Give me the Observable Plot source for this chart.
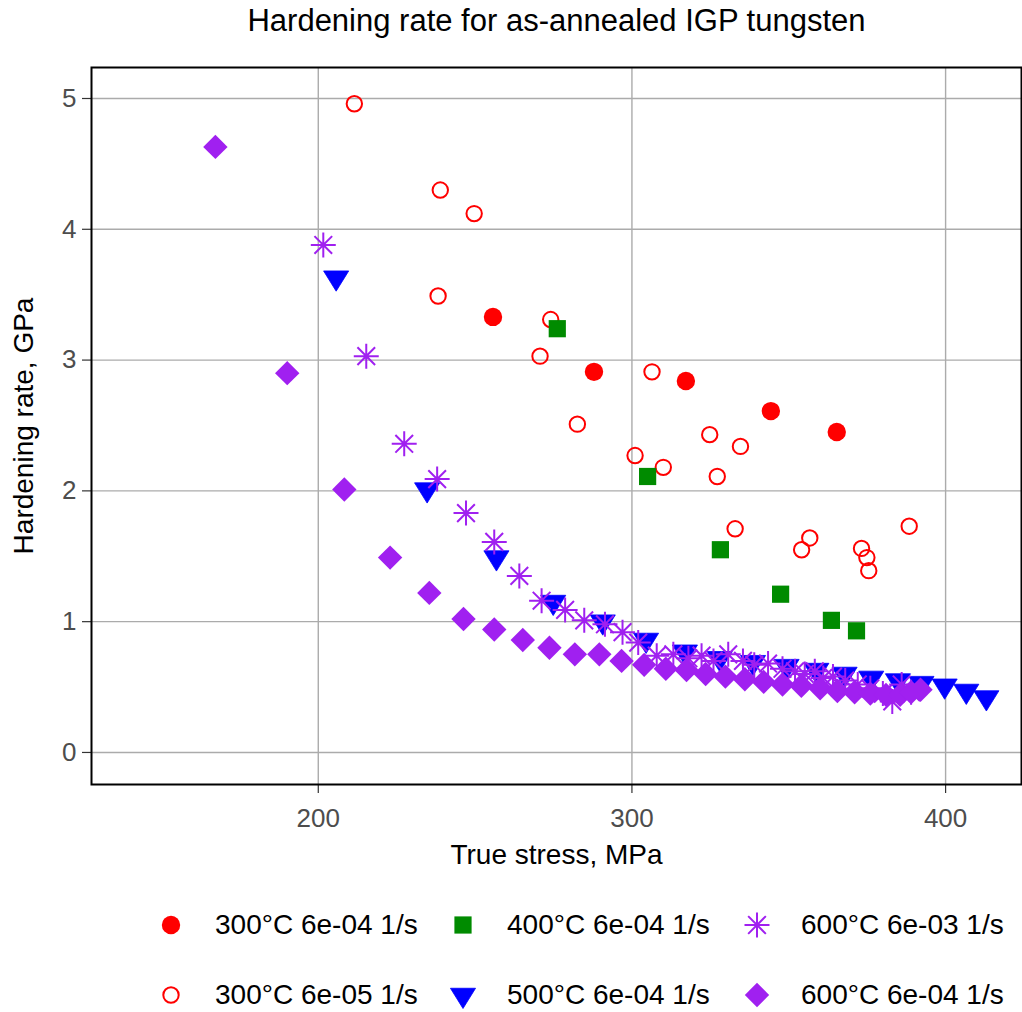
<!DOCTYPE html>
<html>
<head>
<meta charset="utf-8">
<script src="https://cdn.jsdelivr.net/npm/d3@7"></script>
<script src="https://cdn.jsdelivr.net/npm/@observablehq/plot@0.6"></script>
<style>
  body { margin: 0; background: #fff; font-family: "Liberation Sans", Arial, sans-serif; }
  #wrap { position: relative; width: 1022px; height: 1012px; overflow: hidden; }
  #title { position: absolute; left: 91px; width: 931px; top: 0; height: 42px; line-height: 42px;
           text-align: center; font-size: 31px; color: #000; white-space: nowrap; }
  #chart { position: absolute; left: 0; top: 48px; }
  .leg { position: absolute; height: 40px; display: flex; align-items: center; font-size: 28px; color: #000; white-space: nowrap; }
  .leg svg { position: absolute; }
</style>
</head>
<body>
<div id="wrap">
  <div id="title">Hardening rate for as-annealed IGP tungsten</div>
  <div id="chart"></div>
</div>
<script>
// ---------------- data ----------------
const seriesLabels = [
  "300°C 6e-04 1/s", "300°C 6e-05 1/s", "400°C 6e-04 1/s",
  "500°C 6e-04 1/s", "600°C 6e-03 1/s", "600°C 6e-04 1/s"
];
const xTicks = [200, 300, 400];
const yTicks = [0, 1, 2, 3, 4, 5];

const stress_300C_6e04 = [255.7, 287.9, 317.2, 344.3, 365.3];
const rate_300C_6e04   = [3.33, 2.91, 2.84, 2.61, 2.45];

const stress_300C_6e05 = [211.5, 238.9, 249.7, 238.2, 274.1, 270.7, 282.6, 306.4, 301.0, 310.0,
                          324.8, 334.6, 327.2, 332.9, 356.7, 354.1, 373.2, 374.9, 375.5, 388.4];
const rate_300C_6e05   = [4.96, 4.30, 4.12, 3.49, 3.31, 3.03, 2.51, 2.91, 2.27, 2.18,
                          2.43, 2.34, 2.11, 1.71, 1.64, 1.55, 1.56, 1.49, 1.39, 1.73];

const stress_400C_6e04 = [276.2, 305.0, 328.2, 347.4, 363.6, 371.6];
const rate_400C_6e04   = [3.24, 2.11, 1.55, 1.21, 1.01, 0.93];

const stress_500C_6e04 = [205.7, 234.7, 256.8, 274.9, 290.7, 304.5, 316.9, 328.0, 338.6, 349.3,
                          358.8, 367.8, 376.3, 384.8, 392.3, 399.7, 406.6, 413.0];
const rate_500C_6e04   = [3.63, 2.01, 1.49, 1.15, 1.00, 0.86, 0.77, 0.72, 0.69, 0.66,
                          0.63, 0.60, 0.57, 0.55, 0.53, 0.51, 0.47, 0.42];

const stress_600C_6e03 = [201.6, 215.3, 227.4, 237.9, 247.1, 256.1, 264.1, 271.2, 278.7, 284.8,
                          291.4, 297.0, 302.0, 307.9, 313.2, 318.0, 322.2, 326.0, 330.7, 335.4,
                          339.0, 343.4, 348.0, 352.0, 355.1, 358.3, 361.0, 364.1, 368.0, 372.0,
                          376.0, 380.0, 383.0, 386.0, 389.0];
const rate_600C_6e03   = [3.88, 3.03, 2.36, 2.09, 1.83, 1.61, 1.35, 1.16, 1.09, 1.01,
                          0.98, 0.92, 0.84, 0.74, 0.75, 0.72, 0.74, 0.70, 0.75, 0.70,
                          0.67, 0.68, 0.64, 0.62, 0.60, 0.62, 0.57, 0.58, 0.55, 0.52,
                          0.49, 0.45, 0.39, 0.52, 0.46];

const stress_600C_6e04 = [167.2, 190.1, 208.3, 222.9, 235.4, 246.3, 256.1, 265.2, 273.7, 281.8,
                          289.6, 296.7, 303.9, 310.8, 317.4, 323.5, 329.8, 336.0, 342.0, 348.0,
                          354.0, 360.0, 365.5, 371.0, 376.0, 381.0, 385.5, 389.0, 392.0];
const rate_600C_6e04   = [4.63, 2.90, 2.01, 1.49, 1.22, 1.02, 0.94, 0.86, 0.80, 0.75,
                          0.75, 0.70, 0.67, 0.64, 0.63, 0.60, 0.58, 0.56, 0.54, 0.52,
                          0.51, 0.49, 0.47, 0.46, 0.45, 0.44, 0.44, 0.46, 0.48];

// ---------------- symbols ----------------
const rad = size => Math.sqrt(size / Math.PI);
const symSquare = { draw(c, size) { const r = rad(size); c.rect(-r, -r, 2 * r, 2 * r); } };
const symTriDown = { draw(c, size) { const r = rad(size);
  c.moveTo(0, r); c.lineTo(0.93 * r, -0.5 * r); c.lineTo(-0.93 * r, -0.5 * r); c.closePath(); } };
const symDiamond = { draw(c, size) { const r = rad(size);
  c.moveTo(0, -r); c.lineTo(r, 0); c.lineTo(0, r); c.lineTo(-r, 0); c.closePath(); } };
const symAsterisk = { draw(c, size) { const r = rad(size); const d = r / Math.SQRT2;
  c.moveTo(0, -r); c.lineTo(0, r); c.moveTo(-r, 0); c.lineTo(r, 0);
  c.moveTo(-d, -d); c.lineTo(d, d); c.moveTo(-d, d); c.lineTo(d, -d); } };
const symCircle = d3.symbolCircle;

const styles = [
  { symbol: symCircle,   r: 9.2,  fill: "#ff0000", stroke: "none",    strokeWidth: 0 },
  { symbol: symCircle,   r: 7.7,  fill: "none",    stroke: "#ff0000", strokeWidth: 2 },
  { symbol: symSquare,   r: 8.6,  fill: "#008b00", stroke: "none",    strokeWidth: 0 },
  { symbol: symTriDown,  r: 13.5, fill: "#0000ff", stroke: "#0000ff", strokeWidth: 0.8 },
  { symbol: symAsterisk, r: 12.5, fill: "none",    stroke: "#a020f0", strokeWidth: 2 },
  { symbol: symDiamond,  r: 12.2, fill: "#a020f0", stroke: "none",    strokeWidth: 0 }
];

const seriesXY = [
  [stress_300C_6e04, rate_300C_6e04],
  [stress_300C_6e05, rate_300C_6e05],
  [stress_400C_6e04, rate_400C_6e04],
  [stress_500C_6e04, rate_500C_6e04],
  [stress_600C_6e03, rate_600C_6e03],
  [stress_600C_6e04, rate_600C_6e04]
];

const dotMarks = seriesXY.map(([xs, ys], i) => {
  const data = xs.map((x, j) => ({ x, y: ys[j] }));
  const s = styles[i];
  return Plot.dot(data, { x: "x", y: "y", symbol: s.symbol, r: s.r, fill: s.fill,
    stroke: s.stroke, strokeWidth: s.strokeWidth });
});

const gridStyle = { stroke: "#ababab", strokeOpacity: 1, strokeWidth: 1.4 };

const chart = Plot.plot({
  width: 1022, height: 832,
  marginTop: 19, marginBottom: 96, marginLeft: 91, marginRight: 1,
  style: { fontFamily: "Liberation Sans, Arial, sans-serif", background: "white", color: "#4d4d4d" },
  x: { domain: [127.7, 424.2] },
  y: { domain: [-0.245, 5.237] },
  marks: [
    Plot.gridX(xTicks, gridStyle),
    Plot.gridY(yTicks, gridStyle),
    Plot.axisX(xTicks, { anchor: "bottom", tickSize: 9, tickPadding: 15, fontSize: 26,
      stroke: "#333", fill: "#4d4d4d", strokeWidth: 1.2, label: null, tickFormat: d => String(d) }),
    Plot.axisY(yTicks, { anchor: "left", tickSize: 9, tickPadding: 6, fontSize: 26,
      stroke: "#333", fill: "#4d4d4d", strokeWidth: 1.2, label: null, tickFormat: d => String(d) }),
    ...dotMarks,
    Plot.frame({ stroke: "#000", strokeWidth: 2 }),
    Plot.text(["True stress, MPa"], { text: d => d, frameAnchor: "bottom", dy: 71,
      textAnchor: "middle", lineAnchor: "middle", fontSize: 28, fill: "#000" }),
    Plot.text(["Hardening rate, GPa"], { text: d => d, frameAnchor: "left", dx: -67, rotate: -90,
      textAnchor: "middle", lineAnchor: "middle", fontSize: 28, fill: "#000" })
  ]
});
document.getElementById("chart").appendChild(chart);

// ---------------- legend ----------------
const legCols = [171, 463, 757];
const legRows = [925, 995];
const wrap = document.getElementById("wrap");
seriesLabels.forEach((label, i) => {
  const col = Math.floor(i / 2), row = i % 2;
  const cx = legCols[col], cy = legRows[row];
  const div = document.createElement("div");
  div.className = "leg";
  div.style.left = (cx - 20) + "px";
  div.style.top = (cy - 20) + "px";
  div.style.paddingLeft = "64px";
  const s = styles[i];
  const svg = d3.create("svg").attr("width", 40).attr("height", 40).style("left", "0px").style("top", "0px");
  const p = d3.path();
  s.symbol.draw(p, s.r * s.r * Math.PI);
  svg.append("path").attr("transform", "translate(20,20)").attr("d", p.toString())
    .attr("fill", s.fill).attr("stroke", s.stroke).attr("stroke-width", s.strokeWidth);
  div.appendChild(svg.node());
  const span = document.createElement("span");
  span.textContent = label;
  div.appendChild(span);
  wrap.appendChild(div);
});
</script>
</body>
</html>
